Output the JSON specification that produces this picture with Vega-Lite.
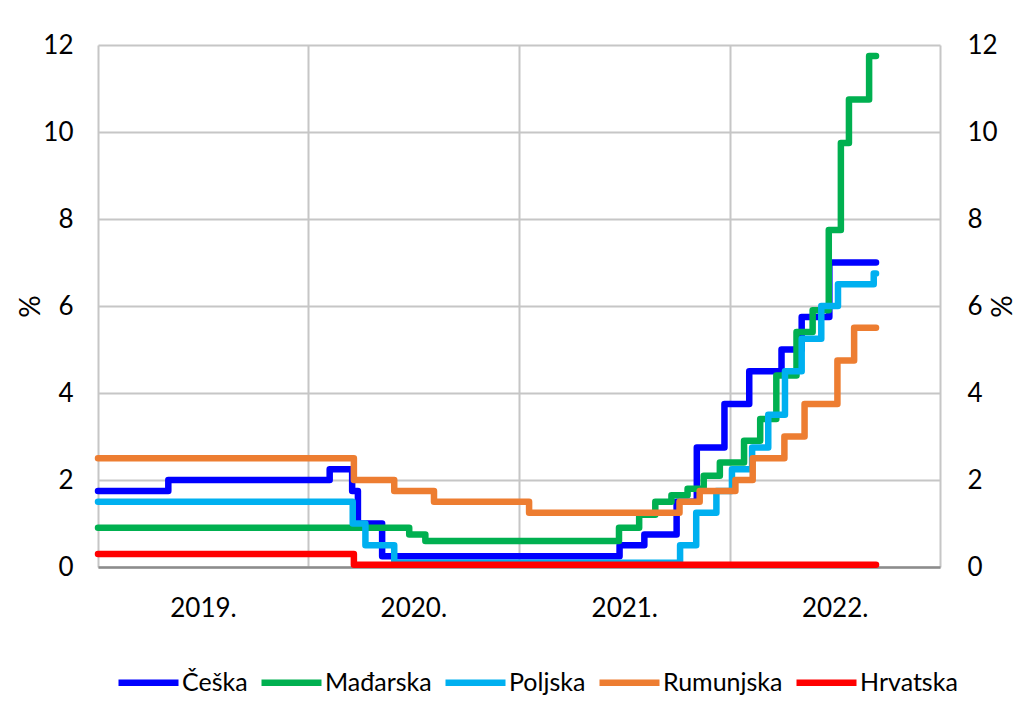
{
  "$schema": "https://vega.github.io/schema/vega-lite/v6.json",
  "width": 842,
  "height": 522,
  "autosize": {"type": "none"},
  "padding": {"left": 98, "top": 45, "right": 77, "bottom": 155},
  "background": "white",
  "data": {
    "values": [
      {"date": "2019-01-01", "country": "Češka", "value": 1.75},
      {"date": "2019-05-03", "country": "Češka", "value": 2.0},
      {"date": "2020-02-07", "country": "Češka", "value": 2.25},
      {"date": "2020-03-17", "country": "Češka", "value": 1.75},
      {"date": "2020-03-27", "country": "Češka", "value": 1.0},
      {"date": "2020-05-08", "country": "Češka", "value": 0.25},
      {"date": "2021-06-24", "country": "Češka", "value": 0.5},
      {"date": "2021-08-06", "country": "Češka", "value": 0.75},
      {"date": "2021-10-01", "country": "Češka", "value": 1.5},
      {"date": "2021-11-05", "country": "Češka", "value": 2.75},
      {"date": "2021-12-23", "country": "Češka", "value": 3.75},
      {"date": "2022-02-04", "country": "Češka", "value": 4.5},
      {"date": "2022-04-01", "country": "Češka", "value": 5.0},
      {"date": "2022-05-06", "country": "Češka", "value": 5.75},
      {"date": "2022-06-23", "country": "Češka", "value": 7.0},
      {"date": "2022-09-12", "country": "Češka", "value": 7.0},

      {"date": "2019-01-01", "country": "Mađarska", "value": 0.9},
      {"date": "2020-06-24", "country": "Mađarska", "value": 0.75},
      {"date": "2020-07-22", "country": "Mađarska", "value": 0.6},
      {"date": "2021-06-23", "country": "Mađarska", "value": 0.9},
      {"date": "2021-07-28", "country": "Mađarska", "value": 1.2},
      {"date": "2021-08-25", "country": "Mađarska", "value": 1.5},
      {"date": "2021-09-22", "country": "Mađarska", "value": 1.65},
      {"date": "2021-10-20", "country": "Mađarska", "value": 1.8},
      {"date": "2021-11-17", "country": "Mađarska", "value": 2.1},
      {"date": "2021-12-15", "country": "Mađarska", "value": 2.4},
      {"date": "2022-01-26", "country": "Mađarska", "value": 2.9},
      {"date": "2022-02-23", "country": "Mađarska", "value": 3.4},
      {"date": "2022-03-23", "country": "Mađarska", "value": 4.4},
      {"date": "2022-04-27", "country": "Mađarska", "value": 5.4},
      {"date": "2022-05-25", "country": "Mađarska", "value": 5.9},
      {"date": "2022-06-22", "country": "Mađarska", "value": 7.75},
      {"date": "2022-07-13", "country": "Mađarska", "value": 9.75},
      {"date": "2022-07-27", "country": "Mađarska", "value": 10.75},
      {"date": "2022-08-31", "country": "Mađarska", "value": 11.75},
      {"date": "2022-09-12", "country": "Mađarska", "value": 11.75},

      {"date": "2019-01-01", "country": "Poljska", "value": 1.5},
      {"date": "2020-03-18", "country": "Poljska", "value": 1.0},
      {"date": "2020-04-09", "country": "Poljska", "value": 0.5},
      {"date": "2020-05-29", "country": "Poljska", "value": 0.1},
      {"date": "2021-10-07", "country": "Poljska", "value": 0.5},
      {"date": "2021-11-04", "country": "Poljska", "value": 1.25},
      {"date": "2021-12-09", "country": "Poljska", "value": 1.75},
      {"date": "2022-01-05", "country": "Poljska", "value": 2.25},
      {"date": "2022-02-09", "country": "Poljska", "value": 2.75},
      {"date": "2022-03-09", "country": "Poljska", "value": 3.5},
      {"date": "2022-04-07", "country": "Poljska", "value": 4.5},
      {"date": "2022-05-06", "country": "Poljska", "value": 5.25},
      {"date": "2022-06-09", "country": "Poljska", "value": 6.0},
      {"date": "2022-07-08", "country": "Poljska", "value": 6.5},
      {"date": "2022-09-08", "country": "Poljska", "value": 6.75},
      {"date": "2022-09-12", "country": "Poljska", "value": 6.75},

      {"date": "2019-01-01", "country": "Rumunjska", "value": 2.5},
      {"date": "2020-03-20", "country": "Rumunjska", "value": 2.0},
      {"date": "2020-05-29", "country": "Rumunjska", "value": 1.75},
      {"date": "2020-08-06", "country": "Rumunjska", "value": 1.5},
      {"date": "2021-01-18", "country": "Rumunjska", "value": 1.25},
      {"date": "2021-10-06", "country": "Rumunjska", "value": 1.5},
      {"date": "2021-11-10", "country": "Rumunjska", "value": 1.75},
      {"date": "2022-01-11", "country": "Rumunjska", "value": 2.0},
      {"date": "2022-02-10", "country": "Rumunjska", "value": 2.5},
      {"date": "2022-04-06", "country": "Rumunjska", "value": 3.0},
      {"date": "2022-05-11", "country": "Rumunjska", "value": 3.75},
      {"date": "2022-07-07", "country": "Rumunjska", "value": 4.75},
      {"date": "2022-08-05", "country": "Rumunjska", "value": 5.5},
      {"date": "2022-09-12", "country": "Rumunjska", "value": 5.5},

      {"date": "2019-01-01", "country": "Hrvatska", "value": 0.3},
      {"date": "2020-03-20", "country": "Hrvatska", "value": 0.05},
      {"date": "2022-09-12", "country": "Hrvatska", "value": 0.05}
    ]
  },
  "layer": [
    {
      "mark": {"type": "line", "interpolate": "step-after", "strokeWidth": 6.5, "strokeCap": "round", "strokeJoin": "round"},
      "encoding": {
        "x": {
          "field": "date", "type": "temporal",
          "scale": {"type": "utc", "domain": [1546300800000, 1672531200000]},
          "axis": {
            "values": [1546300800000, 1577836800000, 1609459200000, 1640995200000, 1672531200000],
            "labelExpr": "utcyear(datum.value) > 2022 ? '' : utcFormat(datum.value, '%Y') + '.'",
            "labelOffset": 105,
            "labelOverlap": false,
            "labelBound": false,
            "labelFlush": false,
            "ticks": false,
            "domain": true,
            "domainColor": "#8C8C8C",
            "domainWidth": 2.5,
            "grid": true,
            "gridColor": "#C6C6C6",
            "gridWidth": 2,
            "labelFont": "Lato",
            "labelFontSize": 26,
            "labelColor": "#000000",
            "labelPadding": 28,
            "title": null
          }
        },
        "y": {
          "field": "value", "type": "quantitative",
          "scale": {"domain": [0, 12], "nice": false},
          "axis": {
            "values": [0, 2, 4, 6, 8, 10, 12],
            "ticks": false,
            "domain": false,
            "grid": true,
            "gridColor": "#C6C6C6",
            "gridWidth": 2,
            "labelFont": "Lato",
            "labelFontSize": 26,
            "labelColor": "#000000",
            "labelPadding": 25,
            "title": "%",
            "titleFont": "Lato",
            "titleFontSize": 28,
            "titleFontWeight": "normal",
            "titleColor": "#000000",
            "titlePadding": -3
          }
        },
        "color": {
          "field": "country", "type": "nominal",
          "scale": {
            "domain": ["Češka", "Mađarska", "Poljska", "Rumunjska", "Hrvatska"],
            "range": ["#0000FF", "#00B050", "#00B0F0", "#ED7D31", "#FF0000"]
          },
          "legend": {
            "orient": "none",
            "legendX": 17,
            "legendY": 604,
            "direction": "horizontal",
            "title": null,
            "symbolType": "stroke",
            "symbolSize": 3600,
            "symbolStrokeWidth": 6.5,
            "labelFont": "Lato",
            "labelFontSize": 25,
            "labelColor": "#000000",
            "labelOffset": 0,
            "columnPadding": 0,
            "labelLimit": 300
          }
        }
      }
    },
    {
      "mark": {"type": "line", "opacity": 0},
      "encoding": {
        "x": {"field": "date", "type": "temporal"},
        "y": {
          "field": "value", "type": "quantitative",
          "scale": {"domain": [0, 12], "nice": false},
          "axis": {
            "orient": "right",
            "values": [0, 2, 4, 6, 8, 10, 12],
            "ticks": false,
            "domain": false,
            "grid": false,
            "labelFont": "Lato",
            "labelFontSize": 26,
            "labelColor": "#000000",
            "labelPadding": 27,
            "title": "%",
            "titleAngle": -90,
            "titleBaseline": "top",
            "titleFont": "Lato",
            "titleFontSize": 28,
            "titleFontWeight": "normal",
            "titleColor": "#000000",
            "titlePadding": -8
          }
        }
      }
    }
  ],
  "resolve": {"scale": {"y": "independent"}},
  "config": {"view": {"stroke": null}}
}
